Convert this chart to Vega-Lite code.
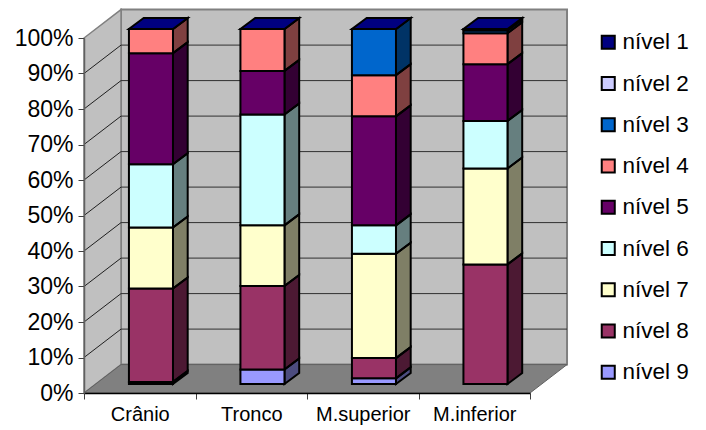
{
  "$schema": "https://vega.github.io/schema/vega-lite/v6.json",
  "width": 446,
  "height": 355,
  "padding": {"left": 84, "top": 38, "right": 176, "bottom": 37},
  "autosize": {"type": "none"},
  "background": "white",
  "config": {
    "font": "Liberation Sans",
    "view": {"stroke": null},
    "axis": {"labelOverlap": false, "labelFlush": false, "labelBound": false},
    "legend": {"title": null}
  },
  "datasets": {
    "rows": [
      {"cat": "Crânio", "level": "nível 9", "pct": 0.6},
      {"cat": "Crânio", "level": "nível 8", "pct": 26.3},
      {"cat": "Crânio", "level": "nível 7", "pct": 17.2},
      {"cat": "Crânio", "level": "nível 6", "pct": 17.8},
      {"cat": "Crânio", "level": "nível 5", "pct": 31.3},
      {"cat": "Crânio", "level": "nível 4", "pct": 6.8},
      {"cat": "Crânio", "level": "nível 1", "pct": 0},
      {"cat": "Tronco", "level": "nível 9", "pct": 4.1},
      {"cat": "Tronco", "level": "nível 8", "pct": 23.5},
      {"cat": "Tronco", "level": "nível 7", "pct": 17.1},
      {"cat": "Tronco", "level": "nível 6", "pct": 31.2},
      {"cat": "Tronco", "level": "nível 5", "pct": 12.3},
      {"cat": "Tronco", "level": "nível 4", "pct": 11.8},
      {"cat": "Tronco", "level": "nível 1", "pct": 0},
      {"cat": "M.superior", "level": "nível 9", "pct": 1.6},
      {"cat": "M.superior", "level": "nível 8", "pct": 5.7},
      {"cat": "M.superior", "level": "nível 7", "pct": 29.4},
      {"cat": "M.superior", "level": "nível 6", "pct": 8},
      {"cat": "M.superior", "level": "nível 5", "pct": 30.7},
      {"cat": "M.superior", "level": "nível 4", "pct": 11.6},
      {"cat": "M.superior", "level": "nível 3", "pct": 13},
      {"cat": "M.superior", "level": "nível 1", "pct": 0},
      {"cat": "M.inferior", "level": "nível 8", "pct": 33.7},
      {"cat": "M.inferior", "level": "nível 7", "pct": 27},
      {"cat": "M.inferior", "level": "nível 6", "pct": 13.4},
      {"cat": "M.inferior", "level": "nível 5", "pct": 16},
      {"cat": "M.inferior", "level": "nível 4", "pct": 8.7},
      {"cat": "M.inferior", "level": "nível 3", "pct": 0.8},
      {"cat": "M.inferior", "level": "nível 1", "pct": 0.4}
    ],
    "ticks": [
      {"tick": 10}, {"tick": 20}, {"tick": 30}, {"tick": 40}, {"tick": 50},
      {"tick": 60}, {"tick": 70}, {"tick": 80}, {"tick": 90}
    ],
    "planes": [{"depth": 0}, {"depth": 1}]
  },
  "layer": [
    {
      "data": {"name": "planes"},
      "transform": [
        {"filter": "datum.depth == 1"},
        {"calculate": "0.332", "as": "xa"},
        {"calculate": "4.332", "as": "xb"},
        {"calculate": "8", "as": "ya"},
        {"calculate": "108", "as": "yb"}
      ],
      "mark": {"type": "rect", "fill": "#c0c0c0", "stroke": "#808080", "strokeWidth": 2},
      "encoding": {
        "x": {
          "field": "xa", "type": "quantitative",
          "scale": {"domain": [0, 4], "nice": false, "zero": false},
          "axis": {
            "title": null, "zindex": 1, "grid": false,
            "values": [0, 0.5, 1, 1.5, 2, 2.5, 3, 3.5, 4],
            "domainColor": "black", "domainWidth": 1.5,
            "tickColor": "#404040", "tickSize": 6,
            "tickOpacity": {"condition": {"test": "datum.value % 1 != 0", "value": 0}, "value": 1},
            "labelExpr": "datum.value % 1 == 0 ? '' : ['Crânio','Tronco','M.superior','M.inferior'][floor(datum.value)]",
            "labelFontSize": 20, "labelColor": "black", "labelPadding": 5,
            "labelAngle": 0
          }
        },
        "x2": {"field": "xb"},
        "y": {
          "field": "ya", "type": "quantitative",
          "scale": {"domain": [0, 100], "nice": false, "zero": false},
          "axis": {
            "title": null, "zindex": 1, "grid": false,
            "values": [0, 10, 20, 30, 40, 50, 60, 70, 80, 90, 100],
            "tickCount": 11,
            "tickOpacity": {"condition": {"test": "datum.value < 0", "value": 0}, "value": 1},
            "labelExpr": "datum.value + '%'",
            "domainColor": "#606060", "domainWidth": 1.5,
            "tickColor": "#404040", "tickSize": 6,
            "labelFontSize": 23, "labelColor": "black", "labelPadding": 5
          }
        },
        "y2": {"field": "yb"}
      }
    },
    {
      "data": {"name": "planes"},
      "transform": [
        {"calculate": "0.332 * datum.depth", "as": "xa"},
        {"calculate": "8 * datum.depth", "as": "ya"},
        {"calculate": "100 + 8 * datum.depth", "as": "yb"}
      ],
      "mark": {"type": "area", "orient": "vertical", "fill": "#c0c0c0", "stroke": "#808080", "strokeWidth": 1.5},
      "encoding": {
        "x": {"field": "xa", "type": "quantitative", "title": null},
        "y": {"field": "ya", "type": "quantitative", "title": null, "stack": null},
        "y2": {"field": "yb"}
      }
    },
    {
      "data": {"name": "ticks"},
      "mark": {"type": "rule", "color": "#303030", "strokeWidth": 1},
      "transform": [
        {"calculate": "0.332", "as": "xa"},
        {"calculate": "4.332", "as": "xb"},
        {"calculate": "datum.tick + 8", "as": "ya"}
      ],
      "encoding": {
        "x": {"field": "xa", "type": "quantitative", "title": null},
        "x2": {"field": "xb"},
        "y": {"field": "ya", "type": "quantitative", "title": null}
      }
    },
    {
      "data": {"name": "ticks"},
      "mark": {"type": "rule", "color": "#202020", "strokeWidth": 1},
      "transform": [
        {"calculate": "0", "as": "xa"},
        {"calculate": "0.332", "as": "xb"},
        {"calculate": "datum.tick + 8", "as": "yb"}
      ],
      "encoding": {
        "x": {"field": "xa", "type": "quantitative", "title": null},
        "x2": {"field": "xb"},
        "y": {"field": "tick", "type": "quantitative", "title": null},
        "y2": {"field": "yb"}
      }
    },
    {
      "data": {"name": "planes"},
      "transform": [
        {"calculate": "0.332 * datum.depth", "as": "xa"},
        {"calculate": "4 + 0.332 * datum.depth", "as": "xb"},
        {"calculate": "8 * datum.depth", "as": "ya"}
      ],
      "mark": {"type": "area", "orient": "horizontal", "fill": "#808080", "stroke": "#606060", "strokeWidth": 1},
      "encoding": {
        "x": {"field": "xa", "type": "quantitative", "title": null, "stack": null},
        "x2": {"field": "xb"},
        "y": {"field": "ya", "type": "quantitative", "title": null}
      }
    },
    {
      "data": {"name": "rows"},
      "transform": [
        {
          "stack": "pct",
          "groupby": ["cat"],
          "sort": [{"field": "level", "order": "descending"}],
          "as": ["s0", "s1"]
        },
        {"calculate": "indexof(['Crânio','Tronco','M.superior','M.inferior'], datum.cat)", "as": "idx"},
        {"calculate": "datum.idx + 0.403", "as": "xl"},
        {"calculate": "datum.xl + 0.395", "as": "xr"},
        {"calculate": "datum.s0 + 2.53", "as": "yl"},
        {"calculate": "datum.s1 + 2.53", "as": "yh"},
        {"calculate": "0", "as": "front"},
        {"calculate": "1", "as": "back"}
      ],
      "layer": [
        {
          "transform": [
            {"fold": ["front", "back"]},
            {"calculate": "datum.xr + 0.132 * datum.value", "as": "sx"},
            {"calculate": "datum.yl + 3.1 * datum.value", "as": "sy0"},
            {"calculate": "datum.yh + 3.1 * datum.value", "as": "sy1"}
          ],
          "layer": [
            {
              "mark": {"type": "area", "orient": "vertical"},
              "encoding": {
                "x": {"field": "sx", "type": "quantitative", "title": null},
                "y": {"field": "sy0", "type": "quantitative", "title": null, "stack": null},
                "y2": {"field": "sy1"},
                "detail": {"field": "cat"},
                "fill": {
                  "field": "level", "type": "nominal",
                  "scale": {
                    "domain": ["nível 1", "nível 2", "nível 3", "nível 4", "nível 5", "nível 6", "nível 7", "nível 8", "nível 9"],
                    "range": ["#000080", "#ccccff", "#0066cc", "#ff8080", "#660066", "#ccffff", "#ffffcc", "#993366", "#9999ff"]
                  },
                  "legend": {
                    "orient": "none", "legendX": 513, "legendY": -7,
                    "symbolType": "square", "symbolSize": 170,
                    "symbolStrokeColor": "black", "symbolStrokeWidth": 2,
                    "labelFontSize": 22.5, "labelColor": "black", "labelOffset": 3,
                    "rowPadding": 18.25, "labelLimit": 120
                  }
                }
              }
            },
            {
              "mark": {"type": "area", "orient": "vertical", "fill": "black", "fillOpacity": 0.5, "stroke": "black", "strokeWidth": 2, "strokeJoin": "miter"},
              "encoding": {
                "x": {"field": "sx", "type": "quantitative", "title": null},
                "y": {"field": "sy0", "type": "quantitative", "title": null, "stack": null},
                "y2": {"field": "sy1"},
                "detail": [{"field": "cat"}, {"field": "level"}]
              }
            }
          ]
        },
        {
          "transform": [
            {"filter": "datum.level == 'nível 1'"},
            {"fold": ["front", "back"]},
            {"calculate": "datum.xl + 0.132 * datum.value", "as": "tx0"},
            {"calculate": "datum.xr + 0.132 * datum.value", "as": "tx1"},
            {"calculate": "datum.yh + 3.1 * datum.value", "as": "ty"}
          ],
          "mark": {"type": "area", "orient": "horizontal", "stroke": "black", "strokeWidth": 2, "strokeJoin": "miter"},
          "encoding": {
            "x": {"field": "tx0", "type": "quantitative", "title": null, "stack": null},
            "x2": {"field": "tx1"},
            "y": {"field": "ty", "type": "quantitative", "title": null},
            "detail": {"field": "cat"},
            "fill": {"field": "level", "type": "nominal"}
          }
        },
        {
          "mark": {"type": "rect", "stroke": "black", "strokeWidth": 2},
          "encoding": {
            "x": {"field": "xl", "type": "quantitative", "title": null},
            "x2": {"field": "xr"},
            "y": {"field": "yl", "type": "quantitative", "title": null},
            "y2": {"field": "yh"},
            "fill": {"field": "level", "type": "nominal"}
          }
        }
      ]
    }
  ]
}
